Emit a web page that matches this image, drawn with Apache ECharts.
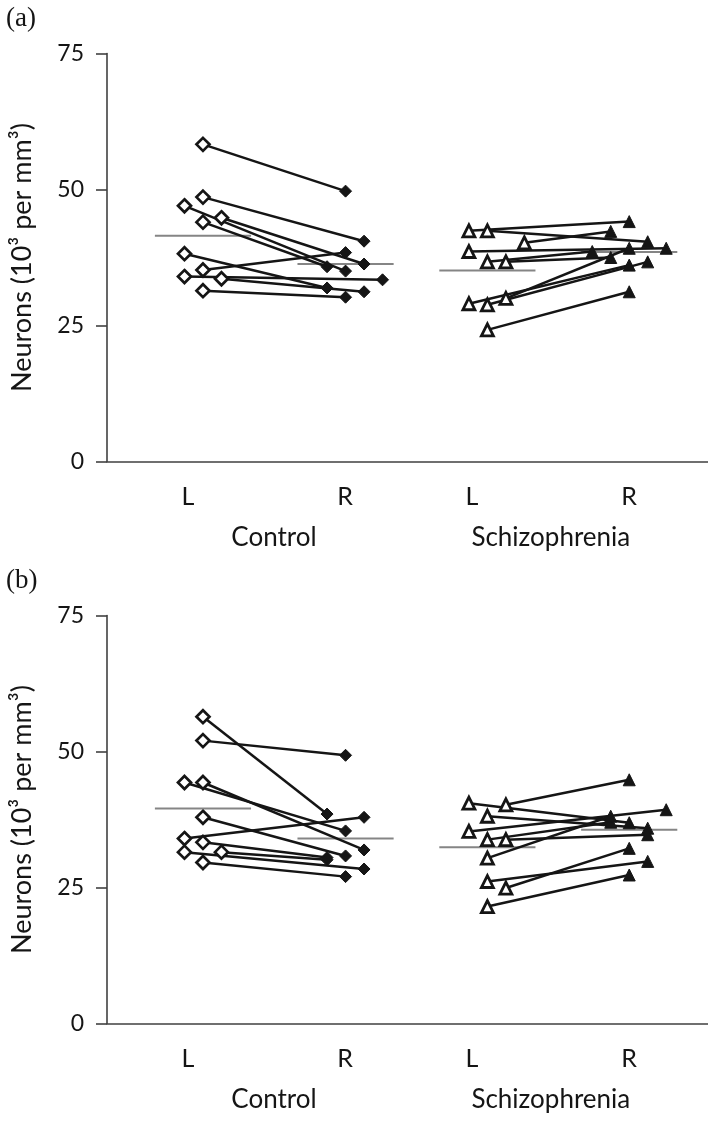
<!DOCTYPE html>
<html><head><meta charset="utf-8">
<script src="https://cdn.jsdelivr.net/npm/echarts@6/dist/echarts.min.js"></script>
<style>html,body{margin:0;padding:0;background:#fff}#c{width:708px;height:1122px}</style>
</head><body><div id="c"></div>
<script>
// ---------- text ----------
const panelLabels = ['(a)', '(b)'];
const sideLabels = ['L', 'R', 'L', 'R'];
const groupLabels = ['Control', 'Schizophrenia'];
const yTitle = 'Neurons (10³ per mm³)';
const yTicks = [0, 25, 50, 75];

// ---------- data: panel (a) ----------
const a_controlL = [58.3, 48.6, 47.0, 44.0, 44.8, 38.2, 35.2, 34.0, 33.6, 31.4];
const a_controlR = [49.7, 40.5, 35.0, 35.8, 36.3, 31.9, 38.4, 33.4, 31.2, 30.2];
const a_schizL   = [42.4, 42.4, 40.2, 38.6, 36.7, 36.7, 29.0, 28.8, 30.0, 24.2];
const a_schizR   = [44.1, 40.4, 42.3, 39.2, 38.6, 37.5, 36.1, 36.7, 39.2, 31.2];
const a_means    = [41.5, 36.3, 35.1, 38.5];   // control L, control R, schiz L, schiz R

// ---------- data: panel (b) ----------
const b_controlL = [56.4, 52.0, 44.3, 44.3, 37.9, 34.0, 33.3, 31.5, 31.5, 29.6];
const b_controlR = [38.5, 49.3, 35.4, 31.9, 30.8, 37.9, 30.5, 28.4, 30.1, 27.0];
const b_schizL   = [40.5, 40.2, 38.1, 35.3, 33.8, 33.8, 30.4, 26.1, 24.9, 21.5];
const b_schizR   = [36.9, 44.8, 35.9, 39.3, 37.0, 34.7, 38.1, 29.8, 32.2, 27.3];
const b_means    = [39.5, 34.0, 32.4, 35.6];

// ---------- layout (horizontal jitter columns, axis positions) ----------
const a_jitCL = [0, 0, -1, 0, 1, -1, 0, -1, 1, 0];
const a_jitCR = [0, 1, 0, -1, 1, -1, 0, 2, 1, 0];
const a_jitSL = [-1, 0, 2, -1, 0, 1, -1, 0, 1, 0];
const a_jitSR = [0, 1, -1, 2, -2, -1, 0, 1, 0, 0];
const b_jitCL = [0, 0, -1, 0, 0, -1, 0, -1, 1, 0];
const b_jitCR = [-1, 0, 0, 1, 0, 1, -1, 1, -1, 0];
const b_jitSL = [-1, 1, 0, -1, 0, 1, 0, 0, 1, 0];
const b_jitSR = [0, 0, 1, 2, -1, 1, -1, 1, 0, 0];

const X_MAX = 32.5;
const basePos = [5.19, 12.9, 20.57, 28.24];
const sideLabelPos = [4.38, 12.87, 19.74, 28.23];
const groupLabelPos = [9.03, 24.0];
const MEAN_HALF = 2.6;

const FONT = 'Lato, "Open Sans", sans-serif';
const INK = '#151515';
const AXIS = '#404040';

function pairSeries(g, L, R, jL, jR, bL, bR, sym, szOpen, szFill, bw) {
  const out = [];
  for (let i = 0; i < L.length; i++) {
    out.push({
      type: 'line', xAxisIndex: g, yAxisIndex: g, z: 3, silent: true,
      lineStyle: { color: INK, width: 2.5 },
      data: [
        { value: [bL + jL[i], L[i]], symbol: sym, symbolSize: szOpen,
          itemStyle: { color: '#fff', borderColor: INK, borderWidth: bw } },
        { value: [bR + jR[i], R[i]], symbol: sym, symbolSize: szFill,
          itemStyle: { color: INK, borderColor: INK, borderWidth: 1 } }
      ]
    });
  }
  return out;
}
function meanSeries(g, means) {
  return means.map((m, k) => ({
    type: 'line', xAxisIndex: g, yAxisIndex: g, z: 2, silent: true, symbol: 'none',
    lineStyle: { color: '#858585', width: 2 },
    data: [[basePos[k] - MEAN_HALF, m], [basePos[k] + MEAN_HALF, m]]
  }));
}

const grids = [
  { left: 107, right: 0, top: 53.5, height: 408 },
  { left: 107, right: 0, top: 615.5, height: 408 }
];

const xAxes = [], yAxes = [];
[0, 1].forEach(g => {
  xAxes.push({
    type: 'value', gridIndex: g, min: 0, max: X_MAX, position: 'bottom',
    splitLine: { show: false }, axisTick: { show: false },
    axisLine: { show: true, lineStyle: { color: AXIS, width: 1.6 } },
    axisLabel: {
      customValues: sideLabelPos, margin: 23, color: INK, fontSize: 25, fontFamily: FONT,
      formatter: v => sideLabels[sideLabelPos.indexOf(v)] || ''
    }
  });
  xAxes.push({
    type: 'value', gridIndex: g, min: 0, max: X_MAX, position: 'bottom',
    splitLine: { show: false }, axisTick: { show: false }, axisLine: { show: false },
    axisLabel: {
      customValues: groupLabelPos, margin: 63, color: INK, fontSize: 26, fontFamily: FONT,
      formatter: v => groupLabels[groupLabelPos.indexOf(v)] || ''
    }
  });
  yAxes.push({
    type: 'value', gridIndex: g, min: 0, max: 75, interval: 25,
    splitLine: { show: false },
    axisLine: { show: true, lineStyle: { color: AXIS, width: 1.6 } },
    axisTick: { show: true, inside: false, length: 11, lineStyle: { color: AXIS, width: 1.6 } },
    axisLabel: { margin: 23, color: INK, fontSize: 23, fontFamily: FONT },
    name: yTitle, nameLocation: 'middle', nameGap: 71,
    nameTextStyle: { color: INK, fontSize: 27, fontFamily: FONT }
  });
});

const series = [].concat(
  meanSeries(0, a_means), meanSeries(1, b_means),
  pairSeries(0, a_controlL, a_controlR, a_jitCL, a_jitCR, basePos[0], basePos[1], 'diamond', 13, 12, 2.7),
  pairSeries(0, a_schizL, a_schizR, a_jitSL, a_jitSR, basePos[2], basePos[3], 'triangle', 12, 12, 2.8),
  pairSeries(1, b_controlL, b_controlR, b_jitCL, b_jitCR, basePos[0], basePos[1], 'diamond', 13, 12, 2.7),
  pairSeries(1, b_schizL, b_schizR, b_jitSL, b_jitSR, basePos[2], basePos[3], 'triangle', 12, 12, 2.8)
);
// x axes are ordered [a-side, a-group, b-side, b-group]
series.forEach(s => { if (s.xAxisIndex === 1) { s.xAxisIndex = 2; } });

const chart = echarts.init(document.getElementById('c'), null, { renderer: 'canvas' });
chart.setOption({
  animation: false,
  backgroundColor: '#fff',
  title: [
    { text: panelLabels[0], left: 1, top: 0, textStyle: { fontFamily: '"Liberation Serif", serif', fontWeight: 'normal', fontSize: 27, color: INK } },
    { text: panelLabels[1], left: 1, top: 562, textStyle: { fontFamily: '"Liberation Serif", serif', fontWeight: 'normal', fontSize: 27, color: INK } }
  ],
  grid: grids,
  xAxis: xAxes,
  yAxis: yAxes,
  series: series
});
</script></body></html>
